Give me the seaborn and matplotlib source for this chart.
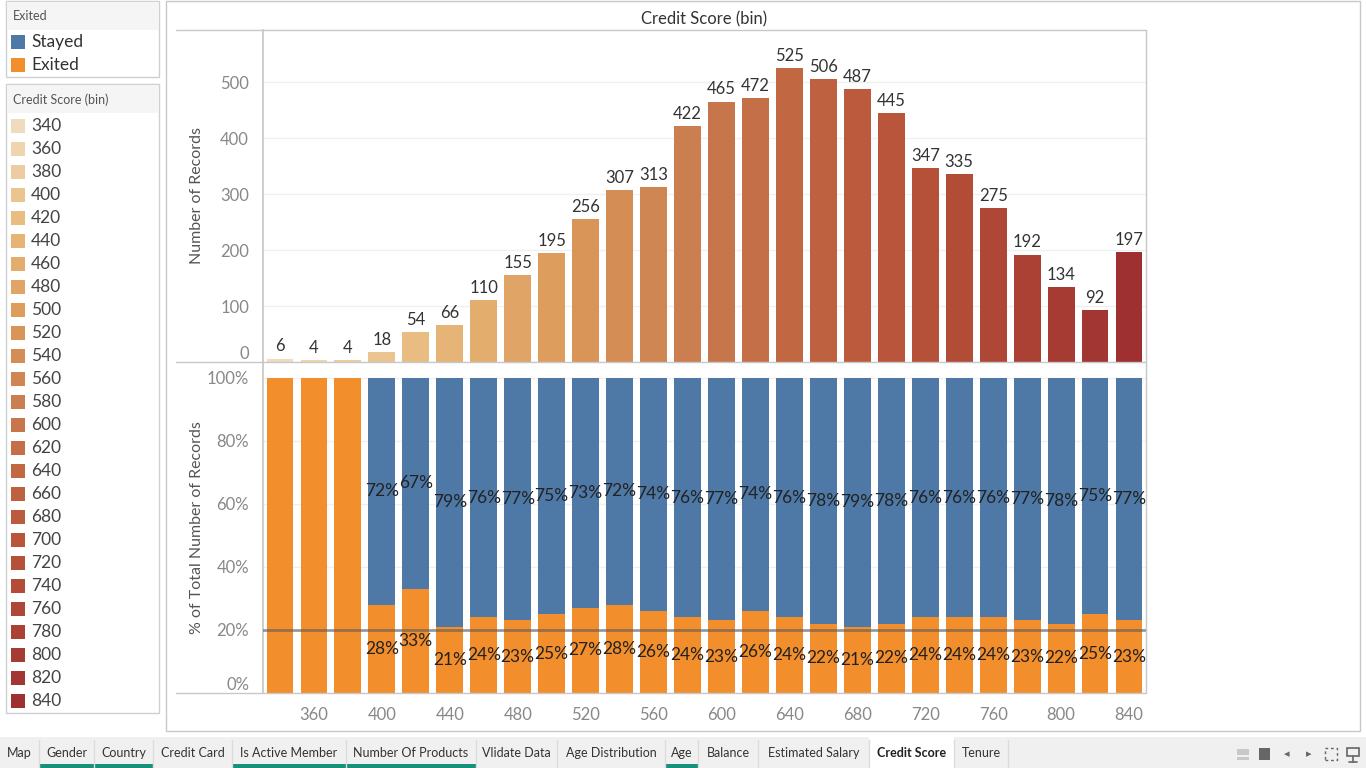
import numpy as np
import pandas as pd
import seaborn as sns
import matplotlib.pyplot as plt
from matplotlib.patches import Rectangle
from matplotlib.lines import Line2D
from matplotlib.colors import LinearSegmentedColormap, to_hex

# credit score bins and record counts
bins = [340, 360, 380, 400, 420, 440, 460, 480, 500, 520, 540, 560, 580,
        600, 620, 640, 660, 680, 700, 720, 740, 760, 780, 800, 820, 840]
counts = [6, 4, 4, 18, 54, 66, 110, 155, 195, 256, 307, 313, 422,
          465, 472, 525, 506, 487, 445, 347, 335, 275, 192, 134, 92, 197]
# % exited per bin (stayed = 100 - exited)
exited_pct = [100, 100, 100, 28, 33, 21, 24, 23, 25, 27, 28, 26, 24,
              23, 26, 24, 22, 21, 22, 24, 24, 24, 23, 22, 25, 23]
stayed_pct = [100 - v for v in exited_pct]
ref_line = 20

tabs = ["Map", "Gender", "Country", "Credit Card", "Is Active Member",
        "Number Of Products", "Vlidate Data", "Age Distribution", "Age",
        "Balance", "Estimated Salary", "Credit Score", "Tenure"]
tab_edges = [0, 39, 94, 153, 232, 346, 476, 557, 665, 698, 758, 869, 954, 1008]
tab_marked = ["Gender", "Country", "Is Active Member", "Number Of Products", "Age"]

STAYED = "#4e79a7"
EXITED = "#f28e2b"
cmap = LinearSegmentedColormap.from_list(
    "credit", ["#efdcbf", "#e9bb7d", "#dc9a5a", "#c97a4d", "#bc5c3d", "#b04836", "#9e3031"])
bin_colors = [to_hex(cmap(i / (len(bins) - 1))) for i in range(len(bins))]

sns.set_theme(style="white")
plt.rcParams["font.family"] = ["Lato", "DejaVu Sans"]

W, H = 1366, 768
fig = plt.figure(figsize=(W / 100, H / 100), dpi=100)


def fx(x):
    return x / W


def fy(y):
    return 1 - y / H


def frect(x0, y0, x1, y1, **kw):
    fig.patches.append(Rectangle((fx(x0), fy(y1)), fx(x1 - x0), (y1 - y0) / H,
                                 transform=fig.transFigure, **kw))


def fline(x0, y0, x1, y1, **kw):
    fig.lines.append(Line2D([fx(x0), fx(x1)], [fy(y0), fy(y1)], transform=fig.transFigure, **kw))


df = pd.DataFrame({"bin": [str(b) for b in bins], "count": counts,
                   "exited": exited_pct, "stayed": stayed_pct, "total": 100})
bar_kw = dict(width=0.79, saturation=1, linewidth=0, edgecolor="none")

# ---- top chart: counts
ax1 = fig.add_axes([fx(263), fy(362), fx(1146 - 263), 332 / H])
sns.barplot(data=df, x="bin", y="count", hue="bin", palette=bin_colors,
            legend=False, ax=ax1, **bar_kw)
for c in ax1.containers:
    ax1.bar_label(c, padding=3, fontsize=12, color="#333333")
ax1.set_ylim(0, 593)
ax1.set_yticks([0, 100, 200, 300, 400, 500])
ax1.set_xticks([])
ax1.set_xlabel("")
ax1.set_ylabel("Number of Records", fontsize=11.5, color="#555555")

# ---- bottom chart: % of total, stacked
ax2 = fig.add_axes([fx(263), fy(693), fx(1146 - 263), 331 / H])
sns.barplot(data=df, x="bin", y="total", color=STAYED, ax=ax2, **bar_kw)
sns.barplot(data=df, x="bin", y="exited", color=EXITED, ax=ax2, **bar_kw)
ax2.axhline(ref_line, color="#5a5a5a", alpha=0.6, lw=2, zorder=5)
for i, (e, s) in enumerate(zip(exited_pct, stayed_pct)):
    if e in (0, 100):
        continue
    ax2.text(i, e / 2, f"{e}%", ha="center", va="center", fontsize=12.5, color="#222222", zorder=6)
    ax2.text(i, e + s / 2, f"{s}%", ha="center", va="center", fontsize=12.5, color="#222222", zorder=6)
ax2.set_ylim(0, 105)
ax2.set_yticks([0, 20, 40, 60, 80, 100])
ax2.set_yticklabels([f"{t}%" for t in [0, 20, 40, 60, 80, 100]])
ax2.set_xticks(range(1, len(bins), 2))
ax2.set_xticklabels([str(bins[i]) for i in range(1, len(bins), 2)])
ax2.set_xlabel("")
ax2.set_ylabel("% of Total Number of Records", fontsize=11.5, color="#555555")

for ax in (ax1, ax2):
    ax.set_xlim(-0.5, len(bins) - 0.5)
    ax.yaxis.grid(True, color="#f0f0f0", lw=1)
    ax.set_axisbelow(True)
    for sp in ["top", "bottom", "right"]:
        ax.spines[sp].set_visible(False)
    ax.spines["left"].set_color("#c8c8c8")
    ax.tick_params(axis="both", length=0, labelsize=12, labelcolor="#888888", pad=10)
    ax.get_yticklabels()[0].set_va("bottom")
    ax.yaxis.set_label_coords((204 - 263) / (1146 - 263), 0.5)

# chart frame
frect(166, 0.5, 1360, 731, fill=False, ec="#c8c8c8", lw=1)
fig.text(fx(704), fy(19), "Credit Score (bin)", ha="center", va="center",
         fontsize=12, color="#333333")
for y in (30, 362, 693):
    fline(176, y, 1146, y, color="#c8c8c8", lw=1)
fline(1146, 30, 1146, 693, color="#c8c8c8", lw=1)

# legend: Exited
frect(6, 1, 159, 77, fill=False, ec="#d0d0d0", lw=1)
frect(7, 2, 158, 30, color="#f5f5f5", lw=0)
fig.text(fx(13), fy(16), "Exited", fontsize=9, color="#555555", va="center")
for k, (lab, col) in enumerate([("Stayed", STAYED), ("Exited", EXITED)]):
    yc = 42 + k * 23
    frect(11, yc - 7, 25, yc + 7, color=col, lw=0)
    fig.text(fx(31), fy(yc), lab, fontsize=12.5, color="#333333", va="center")

# legend: Credit Score (bin)
frect(6, 84, 159, 713, fill=False, ec="#d0d0d0", lw=1)
frect(7, 85, 158, 113, color="#f5f5f5", lw=0)
fig.text(fx(13), fy(100), "Credit Score (bin)", fontsize=9, color="#555555", va="center")
for k, (b, col) in enumerate(zip(bins, bin_colors)):
    yc = 126 + k * 23
    frect(11, yc - 7, 25, yc + 7, color=col, lw=0)
    fig.text(fx(31), fy(yc), str(b), fontsize=12.5, color="#444444", va="center")

# tab bar
frect(0, 737, W, H, color="#f0f0f0", lw=0)
for k, name in enumerate(tabs):
    x0, x1 = tab_edges[k], tab_edges[k + 1]
    bold = name == "Credit Score"
    if bold:
        frect(x0, 737, x1, H, color="white", lw=0)
    fline(x1, 740, x1, H, color="#dcdcdc", lw=1)
    if name in tab_marked:
        frect(x0, 764, x1, H, color="#17917a", lw=0)
    fig.text(fx((x0 + x1) / 2), fy(753), name, ha="center", va="center", fontsize=9,
             color="#222222" if bold else "#333333", fontweight="bold" if bold else "normal")
# small toolbar icons
frect(1237, 749, 1249, 755, color="#c8c8c8", lw=0)
frect(1237, 757, 1249, 760, color="#c8c8c8", lw=0)
frect(1259, 748, 1270, 760, color="#666666", lw=0)
fig.text(fx(1287), fy(754), "\u25c2", ha="center", va="center", fontsize=8, color="#666666", family="DejaVu Sans")
fig.text(fx(1309), fy(754), "\u25b8", ha="center", va="center", fontsize=8, color="#666666", family="DejaVu Sans")
frect(1325, 748, 1337, 760, fill=False, ec="#666666", lw=1, ls=(0, (2, 2)))
frect(1347, 748, 1359, 756, fill=False, ec="#666666", lw=1.2)
fline(1353, 756, 1353, 762, color="#666666", lw=1.2)
fline(1349, 762, 1357, 762, color="#666666", lw=1.2)

fig.savefig("out.png", dpi=100)
